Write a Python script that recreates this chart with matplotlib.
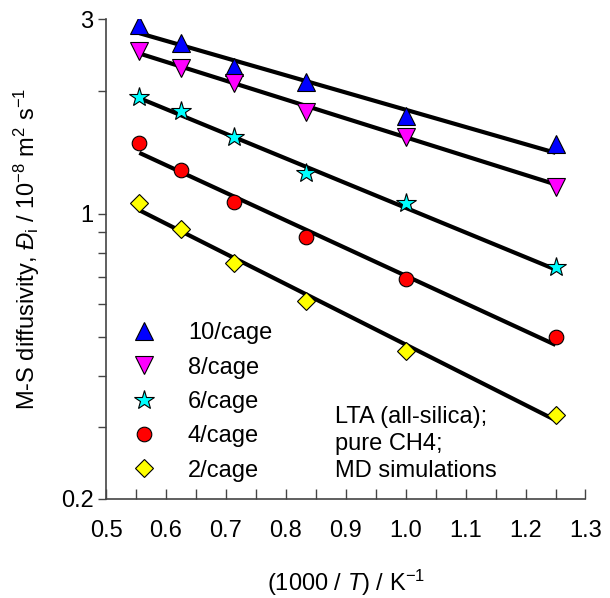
import matplotlib
matplotlib.use("Agg")
import matplotlib.pyplot as plt
import numpy as np
from matplotlib.ticker import FixedLocator, NullLocator, NullFormatter, FixedFormatter

plt.rcParams["font.family"] = ["Liberation Sans", "DejaVu Sans"]
plt.rcParams["mathtext.fontset"] = "custom"
plt.rcParams["mathtext.rm"] = "Liberation Sans"
plt.rcParams["mathtext.it"] = "Liberation Sans:italic"

# ---------------------------------------------------------------------------
# Data: 1000/T and M-S diffusivities (10^-8 m2/s)
# ---------------------------------------------------------------------------
inv_T = [0.5556, 0.625, 0.7143, 0.8333, 1.0, 1.25]

labels = ["10/cage", "8/cage", "6/cage", "4/cage", "2/cage"]

D_10 = [2.90, 2.62, 2.29, 2.10, 1.74, 1.48]
D_8 = [2.50, 2.27, 2.09, 1.78, 1.54, 1.16]
D_6 = [1.93, 1.79, 1.54, 1.26, 1.06, 0.74]
D_4 = [1.49, 1.28, 1.07, 0.876, 0.692, 0.499]
D_2 = [1.06, 0.917, 0.757, 0.611, 0.461, 0.321]

# Arrhenius fit lines, value at first and last 1000/T
fit_10 = [2.77, 1.41]
fit_8 = [2.47, 1.18]
fit_6 = [1.92, 0.73]
fit_4 = [1.41, 0.477]
fit_2 = [1.02, 0.312]

series = [D_10, D_8, D_6, D_4, D_2]
fits = [fit_10, fit_8, fit_6, fit_4, fit_2]
markers = ["^", "v", "*", "o", "D"]
colors = ["#0000ff", "#ff00ff", "#00ffff", "#ff0000", "#ffff00"]
sizes = [12.5, 12.5, 14.5, 10.5, 9]

FS = 17

fig = plt.figure(figsize=(6.10, 5.98), dpi=100)
ax = fig.add_axes([0.1738, 0.1656, 0.786, 0.8026])

x_fit = [inv_T[0], inv_T[-1]]
handles = []
for D, fit, m, c, s, lab in zip(series, fits, markers, colors, sizes, labels):
    ax.plot(x_fit, fit, color="black", lw=3.0, solid_capstyle="butt", zorder=2)
    h, = ax.plot(inv_T, D, linestyle="none", marker=m, ms=s, mfc=c, mec="black",
                 mew=0.8, zorder=3, label=lab)
    handles.append(h)

ax.set_yscale("log")
ax.set_xlim(0.5, 1.3)
ax.set_ylim(0.2, 3)

# y ticks: labels only at 0.2, 1 and 3
yt = [0.2, 0.3, 0.4, 0.5, 0.6, 0.7, 0.8, 0.9, 1, 2, 3]
ylab = ["0.2", "", "", "", "", "", "", "", "1", "", "3"]
ax.yaxis.set_major_locator(FixedLocator(yt))
ax.yaxis.set_major_formatter(FixedFormatter(ylab))
ax.yaxis.set_minor_locator(NullLocator())
ax.yaxis.set_minor_formatter(NullFormatter())

ax.set_xticks(np.arange(0.5, 1.31, 0.1))
ax.set_xticklabels([f"{v:.1f}" for v in np.arange(0.5, 1.31, 0.1)])
ax.set_xticks(np.arange(0.55, 1.3, 0.1), minor=True)

ax.tick_params(axis="y", which="both", direction="out", length=6, width=1,
               labelsize=FS, pad=3, color="#444444")
ax.tick_params(axis="x", which="both", direction="in", length=7, width=1,
               labelsize=FS, pad=15, color="#444444")

for side in ("top", "right"):
    ax.spines[side].set_visible(False)
for side in ("left", "bottom"):
    ax.spines[side].set_color("#444444")
    ax.spines[side].set_linewidth(1.2)

ax.set_xlabel(r"(1000 / $\mathit{T}$) / K$^{-1}$", fontsize=FS, labelpad=19)
ax.set_ylabel(r"M-S diffusivity, $\mathit{Đ}_\mathrm{i}$ / 10$^{-8}$ m$^2$ s$^{-1}$",
              fontsize=FS)
ax.yaxis.set_label_coords(-0.133, 0.52)

ax.legend(handles=handles, loc="upper left", bbox_to_anchor=(0.035, 0.3875),
          frameon=False, fontsize=FS, handlelength=1.0, handletextpad=1.36,
          labelspacing=0.52, borderaxespad=0)

ax.text(0.4775, 0.194, "LTA (all-silica);\npure CH4;\nMD simulations",
        transform=ax.transAxes, fontsize=FS, va="top", ha="left",
        linespacing=1.3)

fig.savefig("out.png", dpi=100)
